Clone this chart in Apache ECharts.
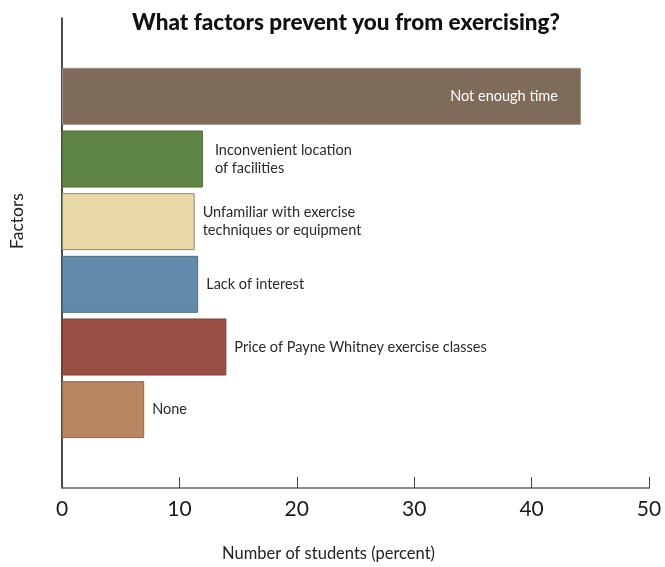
<!DOCTYPE html>
<html>
<head>
<meta charset="utf-8">
<script src="https://cdn.jsdelivr.net/npm/echarts@6/dist/echarts.min.js"></script>
<style>
  html, body { margin: 0; padding: 0; background: #fff; }
  #chart { width: 665px; height: 567px; }
</style>
</head>
<body>
<div id="chart"></div>
<script>
// Survey answers, top to bottom
const factors = [
  'Not enough time',
  'Inconvenient location\nof facilities',
  'Unfamiliar with exercise\ntechniques or equipment',
  'Lack of interest',
  'Price of Payne Whitney exercise classes',
  'None'
];
const percents = [44.2, 12.0, 11.3, 11.6, 14.0, 7.0];
const barColors = ['#7e6b5a', '#5e8543', '#e9d9a6', '#618aab', '#9a4f45', '#b88660'];
const borderColors = ['#9a8f86', '#4d6b39', '#8f8a78', '#4c6d88', '#7d3f38', '#8d6a4f'];
const xTicks = [0, 10, 20, 30, 40, 50];

// The vertical axis is split into half-height rows; each answer sits on every
// other row, leaving empty space above the first bar and below the last.
const rowCount = 2 * factors.length + 3;
const rows = [];
const values = [];
for (let r = 0; r < rowCount; r++) {
  const k = (r - 2) / 2;
  if (r >= 2 && r % 2 === 0 && k < factors.length) {
    rows.push(factors[k]);
    const inside = k === 0;
    values.push({
      value: percents[k],
      itemStyle: { color: barColors[k], borderColor: borderColors[k], borderWidth: 1 },
      label: inside
        ? { position: 'insideRight', distance: 23, color: '#ffffff' }
        : { position: 'right', distance: k === 1 ? 12 : 8, color: '#2a2a2a' }
    });
  } else {
    rows.push('row' + r);
    values.push('-');
  }
}

const chart = echarts.init(document.getElementById('chart'), null, { renderer: 'canvas' });
chart.setOption({
  animation: false,
  textStyle: { fontFamily: 'Lato, "Open Sans", sans-serif' },
  title: {
    text: 'What factors prevent you from exercising?',
    left: 341,
    textAlign: 'center',
    top: 6,
    textStyle: { fontFamily: 'Lato, sans-serif', fontWeight: 900, fontSize: 22.5, color: '#111' }
  },
  grid: { left: 61, right: 16, top: 18, bottom: 76, containLabel: false },
  xAxis: {
    type: 'value',
    min: xTicks[0],
    max: xTicks[xTicks.length - 1],
    interval: 10,
    name: 'Number of students (percent)',
    nameLocation: 'middle',
    nameGap: 57,
    nameTextStyle: { fontSize: 16.5, color: '#222', padding: [0, 54, 0, 0] },
    axisLine: { show: true, lineStyle: { color: '#8a8a8a', width: 2 } },
    axisTick: { show: true, inside: true, length: 11, lineStyle: { color: '#444', width: 1 } },
    axisLabel: { fontSize: 21, color: '#1a1a1a', margin: 11, fontFamily: 'Lato, sans-serif' },
    splitLine: { show: false }
  },
  yAxis: {
    type: 'category',
    inverse: true,
    data: rows,
    name: 'Factors',
    nameLocation: 'middle',
    nameGap: 36,
    nameRotate: 90,
    nameTextStyle: { fontSize: 17.5, color: '#222', padding: [0, 0, 0, 64] },
    axisLine: { show: true, lineStyle: { color: '#111', width: 1.5 } },
    axisTick: { show: false },
    axisLabel: { show: false },
    splitLine: { show: false }
  },
  series: [{
    type: 'bar',
    data: values,
    barWidth: 57,
    label: {
      show: true,
      formatter: p => rows[p.dataIndex],
      fontSize: 14.5,
      lineHeight: 18,
      fontFamily: 'Lato, sans-serif'
    }
  }]
});
</script>
</body>
</html>
